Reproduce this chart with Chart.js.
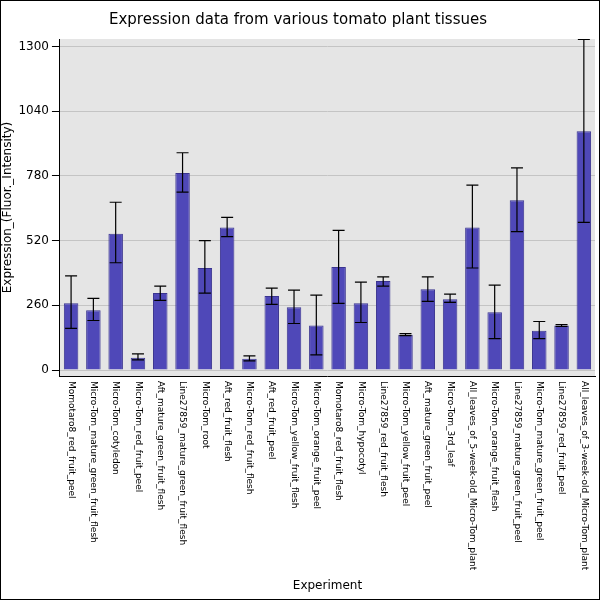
<!DOCTYPE html>
<html><head><script src="https://cdn.jsdelivr.net/npm/chart.js@4"></script>
<style>body{margin:0;background:#fff}#w{position:absolute;left:0;top:0;width:598px;height:598px;border:1px solid #000}</style></head>
<body><div id="w"><canvas id="c" width="598" height="598"></canvas></div>
<script>
const categories=["Momotaro8_red_fruit_peel","Micro-Tom_mature_green_fruit_flesh","Micro-Tom_cotyledon","Micro-Tom_red_fruit_peel","Aft_mature_green_fruit_flesh","Line27859_mature_green_fruit_flesh","Micro-Tom_root","Aft_red_fruit_flesh","Micro-Tom_red_fruit_flesh","Aft_red_fruit_peel","Micro-Tom_yellow_fruit_flesh","Micro-Tom_orange_fruit_peel","Momotaro8_red_fruit_flesh","Micro-Tom_hypocotyl","Line27859_red_fruit_flesh","Micro-Tom_yellow_fruit_peel","Aft_mature_green_fruit_peel","Micro-Tom_3rd_leaf","All_leaves_of_5-week-old_Micro-Tom_plant","Micro-Tom_orange_fruit_flesh","Line27859_mature_green_fruit_peel","Micro-Tom_mature_green_fruit_peel","Line27859_red_fruit_peel","All_leaves_of_3-week-old_Micro-Tom_plant"];
const values=[268,240,548,49,309,792,410,573,45,297,252,179,414,268,358,142,325,284,573,232,682,158,179,959];
const errHigh=[378,288,674,65,337,873,520,613,57,329,321,301,561,353,374,146,374,305,743,341,812,195,183,1328];
const errLow=[167,199,431,41,280,715,309,536,37,264,187,61,268,191,337,138,276,272,410,126,556,126,175,593];
const yTicks=[0,260,520,780,1040,1300];
const plug={id:'p',afterDatasetsDraw(ch){const c=ch.ctx,x=ch.scales.x,y=ch.scales.y;c.save();c.strokeStyle='#000';c.lineWidth=1.2;
values.forEach((v,i)=>{const px=x.getPixelForValue(i),h=y.getPixelForValue(errHigh[i]),l=y.getPixelForValue(errLow[i]);c.beginPath();c.moveTo(px,h);c.lineTo(px,l);c.moveTo(px-6,h);c.lineTo(px+6,h);c.moveTo(px-6,l);c.lineTo(px+6,l);c.stroke();});
c.fillStyle='#000';c.font='9px "DejaVu Sans"';c.textBaseline='middle';c.textAlign='left';
categories.forEach((t,i)=>{const px=x.getPixelForValue(i);c.save();c.translate(px,ch.chartArea.bottom+5);c.rotate(Math.PI/2);c.fillText(t,0,0);c.restore();});
c.font='12px "DejaVu Sans"';c.textAlign='center';c.fillText('Experiment',(ch.chartArea.left+ch.chartArea.right)/2,585);c.restore();},
beforeDraw(ch){const a=ch.chartArea;ch.ctx.fillStyle='#e5e5e5';ch.ctx.fillRect(a.left,a.top,a.right-a.left,a.bottom-a.top);}};
new Chart(document.getElementById('c'),{type:'bar',data:{labels:categories,datasets:[{data:values,backgroundColor:'#4f48b8',borderColor:'#3a3490',borderWidth:1,barPercentage:0.65,categoryPercentage:1}]},
options:{responsive:false,animation:false,layout:{padding:{bottom:215,right:4,top:0}},
plugins:{legend:{display:false},title:{display:true,text:'Expression data from various tomato plant tissues',font:{size:15,family:'DejaVu Sans',weight:'normal'},color:'#000',padding:{top:10,bottom:10}}},
scales:{x:{ticks:{display:false},grid:{display:false},border:{color:'#000'}},
y:{min:-24,max:1330,afterBuildTicks(s){s.ticks=yTicks.map(v=>({value:v}));},ticks:{color:'#000',font:{size:12,family:'DejaVu Sans'},callback:v=>String(v)},grid:{color:'#c4c4c4',tickColor:'#000'},border:{color:'#000'},title:{display:true,text:'Expression_(Fluor._Intensity)',color:'#000',font:{size:12,family:'DejaVu Sans'},padding:{top:0,bottom:0}}}}},plugins:[plug]});
</script></body></html>
